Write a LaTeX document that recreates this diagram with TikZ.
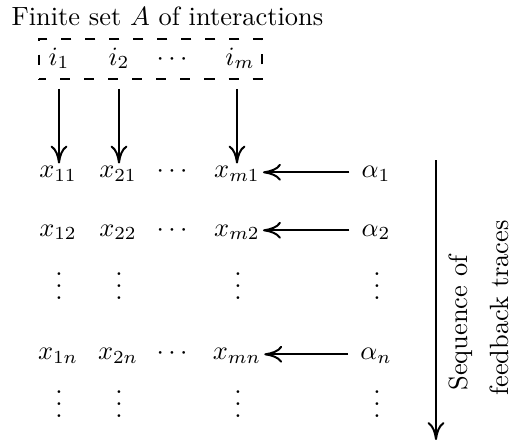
\documentclass[tikz,border=0pt]{standalone}
\usetikzlibrary{arrows.meta}
\newcommand\myvdots{\vbox{\baselineskip4.6pt \lineskiplimit0pt \hbox{.}\hbox{.}\hbox{.}}}
\begin{document}
\begin{tikzpicture}[x=0.3788pt, y=-0.3788pt,
  arr/.style={line width=0.75pt, -{Computer Modern Rightarrow[length=6.8pt,width=6.4pt]}},
  cell/.style={inner sep=1pt, anchor=base},
  vd/.style={inner sep=0pt, anchor=base},
  dbox/.style={draw, line width=0.6pt, dash pattern=on 3.8pt off 5.3pt, dash phase=1pt, minimum width=84.5pt, minimum height=15.15pt, inner sep=0pt},
  lbl/.style={inner sep=0pt}]
\useasboundingbox (0,0) rectangle (518,444);
\node[lbl, anchor=base west] (title) at (11,25) {Finite set $A$ of interactions};
\node[dbox] (box) at (150.5,59) {};
\node[cell] (i1) at (59,65) {$i_1$};
\node[cell] (i2) at (119,65) {$i_2$};
\node[cell] (ic) at (172,65) {$\cdots$};
\node[cell] (im) at (240,65) {$i_m$};
% row 1
\node[cell] (x11) at (58,178) {$x_{11}$};
\node[cell] (x21) at (118,178) {$x_{21}$};
\node[cell] (c1) at (172,178) {$\cdots$};
\node[cell] (xm1) at (237,178) {$x_{m1}$};
\node[cell] (a1) at (376,178) {$\alpha_1$};
% row 2
\node[cell] (x12) at (58,236) {$x_{12}$};
\node[cell] (x22) at (118,236) {$x_{22}$};
\node[cell] (c2) at (172,236) {$\cdots$};
\node[cell] (xm2) at (237,236) {$x_{m2}$};
\node[cell] (a2) at (376,236) {$\alpha_2$};
% dots row
\node[vd] (v11) at (59,300) {\myvdots};
\node[vd] (v12) at (119,300) {\myvdots};
\node[vd] (v13) at (238,300) {\myvdots};
\node[vd] (v14) at (377,300) {\myvdots};
% row n
\node[cell] (x1n) at (58,360) {$x_{1n}$};
\node[cell] (x2n) at (118,360) {$x_{2n}$};
\node[cell] (cn) at (172,360) {$\cdots$};
\node[cell] (xmn) at (237,360) {$x_{mn}$};
\node[cell] (an) at (376,360) {$\alpha_n$};
% dots row
\node[vd] (v21) at (59,418) {\myvdots};
\node[vd] (v22) at (119,418) {\myvdots};
\node[vd] (v23) at (238,418) {\myvdots};
\node[vd] (v24) at (377,418) {\myvdots};
% arrows from interactions
\draw[arr, shorten <=3.4pt] (i1 |- box.south) -- (i1 |- x11.north);
\draw[arr, shorten <=3.4pt] (i2 |- box.south) -- (i2 |- x21.north);
\draw[arr, shorten <=3.4pt] (xm1 |- box.south) -- (xm1.north);
% arrows from alphas
\draw[arr, shorten <=3.4pt] (a1.mid west) -- (xm1.mid east);
\draw[arr, shorten <=3.4pt] (a2.mid west) -- (xm2.mid east);
\draw[arr, shorten <=3.4pt] (an.mid west) -- (xmn.mid east);
% sequence arrow
\coordinate (st) at (436,160);
\coordinate (sb) at (436,440);
\draw[arr] (st) -- (sb);
\node[lbl, rotate=90, anchor=base] (seq) at (468,323) {Sequence of};
\node[lbl, rotate=90, anchor=base] (fbt) at (509,308) {feedback traces};
\end{tikzpicture}
\end{document}
